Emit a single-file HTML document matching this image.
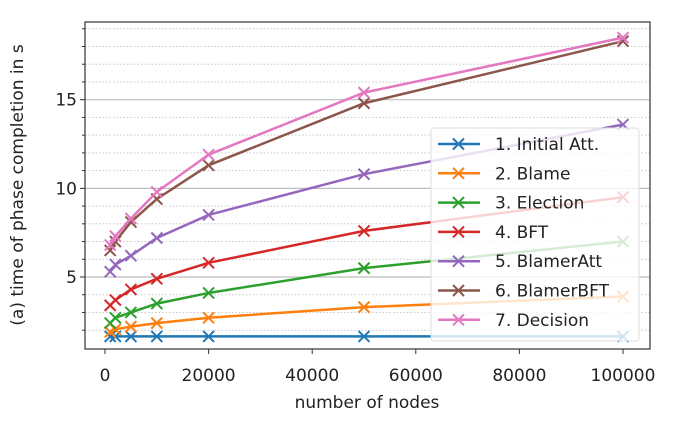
<!DOCTYPE html>
<html><head><meta charset="utf-8"><style>
body{margin:0;background:#fff;}
svg{display:block;font-family:"DejaVu Sans","Liberation Sans",sans-serif;}
</style></head><body>
<svg id="chart" width="677" height="426" viewBox="0 0 677 426"></svg>
<script>
const xValues=[1000,2000,5000,10000,20000,50000,100000];
const seriesNames=["1. Initial Att.","2. Blame","3. Election","4. BFT","5. BlamerAtt","6. BlamerBFT","7. Decision"];
const sInitial=[1.65,1.65,1.65,1.65,1.65,1.65,1.65];
const sBlame=[1.9,2.05,2.2,2.4,2.7,3.3,3.9];
const sElection=[2.4,2.7,3.0,3.5,4.1,5.5,7.0];
const sBFT=[3.4,3.7,4.3,4.9,5.8,7.6,9.5];
const sBlamerAtt=[5.3,5.7,6.2,7.2,8.5,10.8,13.6];
const sBlamerBFT=[6.5,7.0,8.1,9.4,11.3,14.8,18.3];
const sDecision=[6.8,7.3,8.3,9.8,11.9,15.4,18.5];
const xTicks=[0,20000,40000,60000,80000,100000];
const yMajor=[5,10,15];
const yMinor=[2,3,4,6,7,8,9,11,12,13,14,16,17,18,19];
const colors=["#1f77b4","#ff7f0e","#2ca02c","#d62728","#9467bd","#8c564b","#e377c2"];
const allSeries=[sInitial,sBlame,sElection,sBFT,sBlamerAtt,sBlamerBFT,sDecision];
const L=85,R=650,T=22,B=349;
const xs=v=>105+v*(518/100000);
const ys=v=>277+(5-v)*17.73;
const svg=document.getElementById('chart');
const NS="http://www.w3.org/2000/svg";
function mk(tag,attrs,parent){const e=document.createElementNS(NS,tag);for(const k in attrs)e.setAttribute(k,attrs[k]);(parent||svg).appendChild(e);return e;}
const grid=mk('g',{});


yMinor.forEach(v=>{mk('line',{x1:L,x2:R,y1:ys(v),y2:ys(v),stroke:'#c8c8c8','stroke-width':1,'stroke-dasharray':'1.5,2'},grid);mk('line',{x1:L-3,x2:L,y1:ys(v),y2:ys(v),stroke:'#333','stroke-width':1},grid);});
yMajor.forEach(v=>{mk('line',{x1:L,x2:R,y1:ys(v),y2:ys(v),stroke:'#bdbdbd','stroke-width':1.2},grid);mk('line',{x1:L-5,x2:L,y1:ys(v),y2:ys(v),stroke:'#333','stroke-width':1},grid);
const t=mk('text',{x:L-8,y:ys(v)+6,'text-anchor':'end','font-size':17,fill:'#222'},grid);t.textContent=v;

});
xTicks.forEach(v=>{mk('line',{x1:xs(v),x2:xs(v),y1:B,y2:B+5,stroke:'#333','stroke-width':1},grid);
const t=mk('text',{x:xs(v),y:B+32,'text-anchor':'middle','font-size':17,fill:'#222'},grid);t.textContent=v;

});
allSeries.forEach((s,i)=>{const g=mk('g',{});


mk('polyline',{points:s.map((v,j)=>xs(xValues[j])+','+ys(v)).join(' '),fill:'none',stroke:colors[i],'stroke-width':2.5},g);
s.forEach((v,j)=>{const x=xs(xValues[j]),y=ys(v),d=5.5;mk('path',{d:`M${x-d},${y-d}L${x+d},${y+d}M${x-d},${y+d}L${x+d},${y-d}`,stroke:colors[i],'stroke-width':2},g);});});
mk('rect',{x:L,y:T,width:R-L,height:B-T,fill:'none',stroke:'#333','stroke-width':1.2});
const lg=mk('g',{});


mk('rect',{x:431,y:128,width:208,height:213,rx:3,fill:'rgba(255,255,255,0.8)',stroke:'#ddd'},lg);
seriesNames.forEach((n,i)=>{const y=144+i*29.3;mk('line',{x1:438,x2:480,y1:y,y2:y,stroke:colors[i],'stroke-width':2.5},lg);
mk('path',{d:`M453,${y-5.5}L464,${y+5.5}M453,${y+5.5}L464,${y-5.5}`,stroke:colors[i],'stroke-width':2},lg);
const t=mk('text',{x:495,y:y+6,'font-size':17,fill:'#222'},lg);t.textContent=n;

});
const xt=mk('text',{x:367,y:408,'text-anchor':'middle','font-size':17,fill:'#222'});xt.textContent='number of nodes';


const yt=mk('text',{x:0,y:0,'text-anchor':'middle','font-size':17,fill:'#222',transform:'translate(23,185) rotate(-90)'});yt.textContent='(a) time of phase completion in s';


</script>
</body></html>
